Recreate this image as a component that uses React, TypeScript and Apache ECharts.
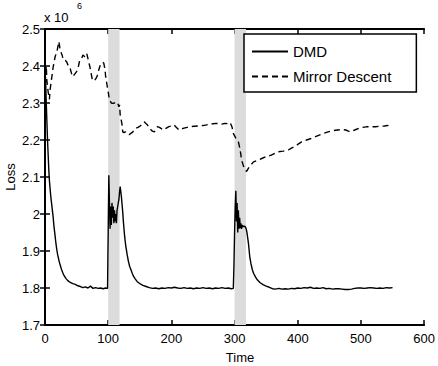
import React, { useEffect, useRef } from "react";
import * as echarts from "echarts";

// Time axis and loss values (x 10^6)
const xTicks = [0, 100, 200, 300, 400, 500, 600];
const yTicks = [1.7, 1.8, 1.9, 2.0, 2.1, 2.2, 2.3, 2.4, 2.5];
const bands: [number, number][] = [
  [100, 118],
  [300, 318],
];

const dmdTime = [
  1, 2, 3, 4, 5, 6, 7, 8, 9, 10, 11, 12, 13, 14, 15, 16, 17, 18, 19, 20, 22, 24, 26, 28, 30, 33, 36, 40, 44, 48,
  52, 56, 60, 64, 68, 72, 76, 80, 84, 88, 92, 96, 99, 99.5, 100, 101, 102, 103, 104, 105, 106, 107, 108, 109,
  110, 111, 112, 113, 114, 115, 116, 117, 118, 119, 120, 121, 122, 123, 124, 125, 126, 127, 128, 130, 132, 134,
  136, 138, 140, 143, 146, 150, 155, 160, 165, 170, 175, 180, 185, 190, 195, 200, 205, 210, 215, 220, 225, 230,
  235, 240, 245, 250, 255, 260, 265, 270, 275, 280, 285, 290, 295, 298, 299, 300, 301, 302, 303, 304, 305, 306,
  307, 308, 309, 310, 311, 312, 313, 314, 315, 316, 317, 318, 319, 320, 322, 324, 326, 328, 330, 333, 336, 340,
  345, 350, 355, 360, 365, 370, 375, 380, 385, 390, 395, 400, 405, 410, 415, 420, 425, 430, 435, 440, 445, 450,
  455, 460, 465, 470, 475, 480, 485, 490, 495, 500, 505, 510, 515, 520, 525, 530, 535, 540, 545, 550,
];
const dmdLoss = [
  2.36, 2.3, 2.25, 2.2, 2.16, 2.12, 2.09, 2.07, 2.05, 2.035, 2.02, 2.005, 1.99, 1.97, 1.955, 1.94, 1.925, 1.912,
  1.9, 1.89, 1.875, 1.862, 1.851, 1.842, 1.834, 1.826, 1.82, 1.815, 1.812, 1.81, 1.806, 1.804, 1.801, 1.803, 1.8,
  1.805, 1.799, 1.801, 1.799, 1.8, 1.798, 1.8, 1.799, 1.88, 1.95, 2.105, 2.03, 1.96, 2.02, 1.97, 2.03, 1.99, 2.02,
  1.975, 2.01, 1.98, 2.0, 1.975, 2.01, 2.02, 2.03, 2.04, 2.06, 2.074, 2.06, 2.045, 2.025, 2.005, 1.98, 1.96, 1.94,
  1.925, 1.912, 1.89, 1.872, 1.858, 1.849, 1.84, 1.832, 1.824, 1.817, 1.812, 1.807, 1.804, 1.801, 1.799, 1.8,
  1.798, 1.8, 1.799, 1.801, 1.8, 1.802, 1.8, 1.799, 1.801, 1.799, 1.8, 1.798, 1.8, 1.799, 1.801, 1.799, 1.8,
  1.798, 1.8, 1.799, 1.801, 1.799, 1.8, 1.798, 1.799, 1.86, 1.95, 2.02, 2.063, 1.98, 2.03, 1.95, 2.01, 1.96,
  1.99, 1.962, 1.975, 1.96, 1.97, 1.965, 1.968, 1.966, 1.967, 1.965, 1.962, 1.955, 1.945, 1.92, 1.885, 1.865,
  1.85, 1.84, 1.83, 1.822, 1.815, 1.809, 1.805, 1.802, 1.798, 1.797, 1.799, 1.797, 1.798, 1.797, 1.799, 1.798,
  1.8, 1.799, 1.801, 1.8, 1.802, 1.799, 1.8, 1.799, 1.801, 1.798, 1.799, 1.797, 1.798, 1.798, 1.797, 1.796,
  1.796, 1.797, 1.799, 1.8, 1.8, 1.799, 1.8, 1.801, 1.8, 1.799, 1.8, 1.799, 1.801, 1.8, 1.801,
];

const mdTime = [
  0, 1, 2, 3, 5, 7, 8, 10, 13, 16, 19, 22, 24, 27, 29, 32, 34, 37, 39, 42, 44, 47, 50, 53, 55, 58, 60, 63, 66,
  68, 71, 73, 75, 78, 81, 83, 85, 87, 89, 91, 93, 95, 96, 98, 100, 102, 105, 107, 110, 113, 115, 117, 118, 119,
  120, 122, 123, 125, 127, 130, 133, 136, 139, 142, 144, 147, 149, 152, 155, 157, 160, 162, 165, 168, 170, 173,
  176, 178, 181, 183, 186, 188, 192, 196, 200, 204, 208, 212, 216, 220, 225, 230, 236, 243, 250, 256, 262, 270,
  276, 280, 285, 290, 293, 296, 298, 302, 306, 308, 310, 311, 314, 317, 319, 322, 326, 330, 336, 343, 350, 358,
  364, 369, 377, 385, 390, 395, 400, 406, 414, 421, 428, 435, 441, 448, 455, 463, 470, 476, 480, 484, 490, 497,
  503, 510, 517, 523, 530, 537, 542, 547,
];
const mdLoss = [
  2.3, 2.38, 2.4, 2.36, 2.33, 2.31, 2.335, 2.36, 2.398, 2.425, 2.44, 2.466, 2.443, 2.43, 2.416, 2.415, 2.412, 2.4,
  2.398, 2.38, 2.371, 2.378, 2.385, 2.4, 2.416, 2.42, 2.43, 2.425, 2.434, 2.42, 2.398, 2.38, 2.362, 2.36, 2.367,
  2.375, 2.389, 2.4, 2.407, 2.41, 2.408, 2.39, 2.371, 2.35, 2.33, 2.308, 2.3, 2.299, 2.3, 2.303, 2.3, 2.29, 2.295,
  2.268, 2.26, 2.241, 2.222, 2.22, 2.222, 2.218, 2.214, 2.218, 2.222, 2.228, 2.232, 2.234, 2.236, 2.24, 2.245,
  2.249, 2.244, 2.241, 2.233, 2.227, 2.224, 2.222, 2.23, 2.236, 2.234, 2.232, 2.229, 2.227, 2.232, 2.236, 2.238,
  2.241, 2.234, 2.227, 2.23, 2.232, 2.234, 2.236, 2.237, 2.238, 2.239, 2.241, 2.243, 2.245, 2.244, 2.243, 2.245,
  2.244, 2.247, 2.235, 2.218, 2.205, 2.195, 2.18, 2.16, 2.146, 2.13, 2.119, 2.115, 2.124, 2.133, 2.141, 2.145,
  2.15, 2.155, 2.159, 2.164, 2.168, 2.17, 2.173, 2.178, 2.182, 2.188, 2.195, 2.2, 2.204, 2.209, 2.214, 2.218,
  2.222, 2.225, 2.227, 2.228, 2.227, 2.224, 2.222, 2.227, 2.232, 2.234, 2.236, 2.236, 2.236, 2.237, 2.238, 2.239,
  2.241,
];

const FONT = "'Liberation Sans', Arial, Helvetica, sans-serif";

export default function App() {
  const ref = useRef<HTMLDivElement>(null);
  useEffect(() => {
    if (!ref.current) return;
    const chart = echarts.init(ref.current, null, { renderer: "svg" });
    const axisLine = { show: true, lineStyle: { color: "#000", width: 2 } };
    const tick = { show: true, inside: true, length: 5, lineStyle: { color: "#000", width: 1.5 } };
    const xBase = { type: "value", min: xTicks[0], max: xTicks[xTicks.length - 1], interval: 100, splitLine: { show: false } };
    const yBase = { type: "value", min: yTicks[0], max: yTicks[yTicks.length - 1], interval: 0.1, splitLine: { show: false } };
    chart.setOption({
      animation: false,
      backgroundColor: "#fff",
      textStyle: { fontFamily: FONT },
      grid: { left: 45, top: 29, width: 382, height: 296, containLabel: false },
      xAxis: [
        {
          ...xBase,
          position: "bottom",
          axisLine,
          axisTick: tick,
          axisLabel: { color: "#000", fontSize: 13, margin: 7, fontFamily: FONT },
        },
        { ...xBase, position: "top", axisLine, axisTick: tick, axisLabel: { show: false } },
      ],
      yAxis: [
        {
          ...yBase,
          position: "left",
          axisLine,
          axisTick: tick,
          axisLabel: {
            color: "#000",
            fontSize: 13,
            margin: 5,
            fontFamily: FONT,
            formatter: (v: number) => String(Math.round(v * 10) / 10),
          },
        },
        { ...yBase, position: "right", axisLine, axisTick: tick, axisLabel: { show: false } },
      ],
      legend: {
        data: ["DMD", "Mirror Descent"],
        orient: "vertical",
        left: 244,
        top: 34,
        padding: [10, 25, 8, 7],
        itemGap: 10,
        itemWidth: 36,
        itemHeight: 14,
        borderColor: "#000",
        borderWidth: 1.5,
        backgroundColor: "#fff",
        itemStyle: { opacity: 0 },
        textStyle: { color: "#000", fontSize: 15, fontFamily: FONT, lineHeight: 15 },
      },
      series: [
        {
          name: "bands",
          type: "line",
          data: [],
          z: 0,
          silent: true,
          markArea: {
            silent: true,
            itemStyle: { color: "#dcdcdc" },
            data: bands.map(([a, b]) => [{ xAxis: a }, { xAxis: b }]),
          },
        },
        {
          name: "DMD",
          type: "line",
          data: dmdTime.map((t, i) => [t, dmdLoss[i]]),
          showSymbol: false,
          symbol: "none",
          z: 3,
          lineStyle: { color: "#000", width: 1.4, type: "solid" },
          itemStyle: { color: "#000" },
        },
        {
          name: "Mirror Descent",
          type: "line",
          data: mdTime.map((t, i) => [t, mdLoss[i]]),
          showSymbol: false,
          symbol: "none",
          z: 3,
          lineStyle: { color: "#000", width: 1.4, type: [6, 4] },
          itemStyle: { color: "#000" },
        },
      ],
      graphic: [
        { type: "text", left: 44, top: 11, style: { text: "x 10", fontSize: 13, fill: "#000", fontFamily: FONT } },
        { type: "text", left: 77, top: 1, style: { text: "6", fontSize: 9, fill: "#000", fontFamily: FONT } },
        {
          type: "text",
          x: 10,
          y: 177,
          rotation: Math.PI / 2,
          style: { text: "Loss", fontSize: 13, fill: "#000", fontFamily: FONT, align: "center", verticalAlign: "middle" },
        },
        {
          type: "text",
          x: 240,
          y: 357,
          style: { text: "Time", fontSize: 13, fill: "#000", fontFamily: FONT, align: "center", verticalAlign: "middle" },
        },
      ],
    });
    return () => chart.dispose();
  }, []);
  return <div ref={ref} style={{ width: 438, height: 366, position: "absolute", left: 0, top: 0 }} />;
}
